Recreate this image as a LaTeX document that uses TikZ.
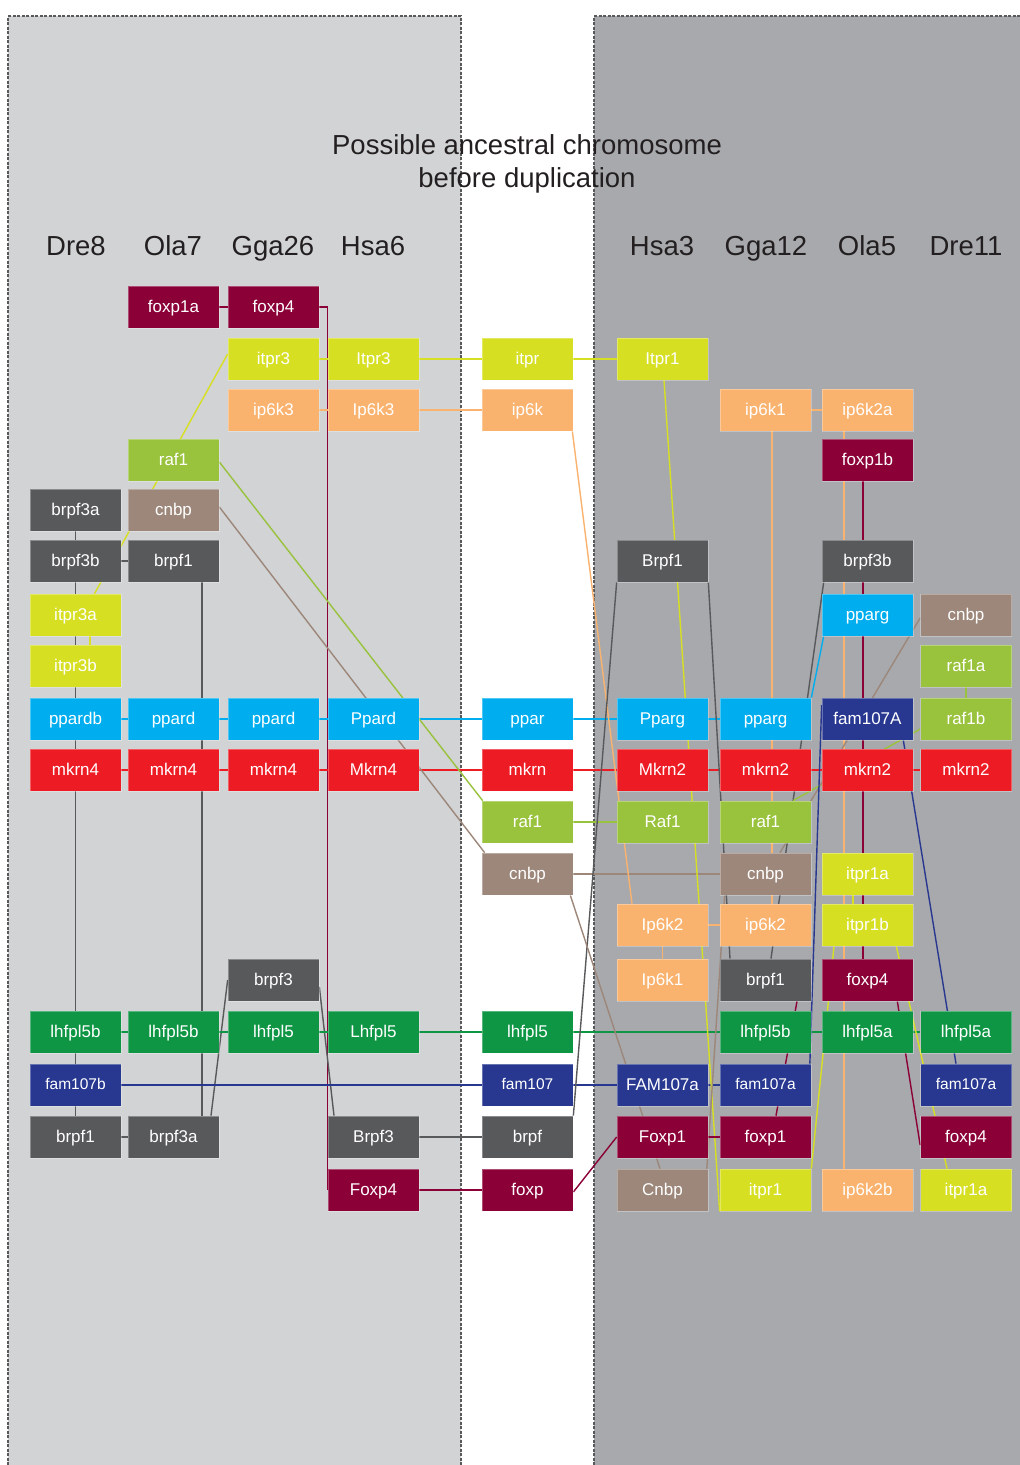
\documentclass[tikz,border=0pt]{standalone}
\usepackage{fontspec}
\setmainfont{Liberation Sans}
\usetikzlibrary{calc}
\pgfdeclarelayer{panels}
\pgfdeclarelayer{links}
\pgfsetlayers{panels,links,main}
\definecolor{cFox}{HTML}{8B0037}
\definecolor{cItp}{HTML}{D7DF23}
\definecolor{cIpk}{HTML}{FAB36F}
\definecolor{cRaf}{HTML}{99C23D}
\definecolor{cCnb}{HTML}{9D877A}
\definecolor{cBrp}{HTML}{58595B}
\definecolor{cPpa}{HTML}{00AEEF}
\definecolor{cMkr}{HTML}{ED1C24}
\definecolor{cLhf}{HTML}{0F9645}
\definecolor{cFam}{HTML}{283891}
\definecolor{panelL}{HTML}{D1D3D4}
\definecolor{panelR}{HTML}{A7A9AC}
\definecolor{txt}{HTML}{231F20}
\begin{document}
\begin{tikzpicture}[x=1pt,y=-1pt,
  gene/.style={rectangle, minimum width=91pt, minimum height=42pt, inner sep=0pt,
    text=white, text height=12.5pt, text depth=2pt,
    font=\fontsize{17}{20}\selectfont, draw=white, draw opacity=0.3, line width=0.7pt},
  small/.style={font=\fontsize{15.5}{18}\selectfont, text height=11.5pt},
  lk/.style={line width=1.4pt},
  pborder/.style={draw=cBrp, line width=1.5pt, dash pattern=on 3pt off 1.5pt},
  head/.style={font=\fontsize{27.5}{30}\selectfont, text=txt, anchor=base, inner sep=0pt}]
\useasboundingbox (0,0) rectangle (1020,1465);
\begin{pgfonlayer}{panels}
\fill[white] (0,0) rectangle (1020,1465);
\fill[panelL] (8,16) rectangle (461,1465);
\draw[pborder] (8,1465) -- (8,16) -- (461,16) -- (461,1465);
\fill[panelR] (594,16) rectangle (1020,1465);
\draw[pborder] (594,1465) -- (594,16) -- (1020,16);
\end{pgfonlayer}

% title and headers
\node[head] (t1) at (527,154) {Possible ancestral chromosome};
\node[head] (t2) at (527,187) {before duplication};
\node[head] (h1) at (76,255) {Dre8};
\node[head] (h2) at (173,255) {Ola7};
\node[head] (h3) at (273,255) {Gga26};
\node[head] (h4) at (373,255) {Hsa6};
\node[head] (h6) at (662,255) {Hsa3};
\node[head] (h7) at (766,255) {Gga12};
\node[head] (h8) at (867,255) {Ola5};
\node[head] (h9) at (966,255) {Dre11};

% column 1 (Dre8)
\node[gene,fill=cBrp] (brpf3a) at (75.5,510) {brpf3a};
\node[gene,fill=cBrp] (brpf3b) at (75.5,561) {brpf3b};
\node[gene,fill=cItp] (itpr3a) at (75.5,615) {itpr3a};
\node[gene,fill=cItp] (itpr3b) at (75.5,666) {itpr3b};
\node[gene,fill=cPpa] (ppardb) at (75.5,719) {ppardb};
\node[gene,fill=cMkr] (mkrnA) at (75.5,770) {mkrn4};
\node[gene,fill=cLhf] (lhfA) at (75.5,1032) {lhfpl5b};
\node[gene,fill=cFam,small] (fam107b) at (75.5,1085) {fam107b};
\node[gene,fill=cBrp] (brpf1A) at (75.5,1137) {brpf1};
% column 2 (Ola7)
\node[gene,fill=cFox] (foxp1a) at (173.5,307) {foxp1a};
\node[gene,fill=cRaf] (raf1B) at (173.5,460) {raf1};
\node[gene,fill=cCnb] (cnbpB) at (173.5,510) {cnbp};
\node[gene,fill=cBrp] (brpf1B) at (173.5,561) {brpf1};
\node[gene,fill=cPpa] (ppardB) at (173.5,719) {ppard};
\node[gene,fill=cMkr] (mkrnB) at (173.5,770) {mkrn4};
\node[gene,fill=cLhf] (lhfB) at (173.5,1032) {lhfpl5b};
\node[gene,fill=cBrp] (brpf3aB) at (173.5,1137) {brpf3a};
% column 3 (Gga26)
\node[gene,fill=cFox] (foxp4C) at (273.5,307) {foxp4};
\node[gene,fill=cItp] (itpr3C) at (273.5,359) {itpr3};
\node[gene,fill=cIpk] (ip6k3C) at (273.5,410) {ip6k3};
\node[gene,fill=cPpa] (ppardC) at (273.5,719) {ppard};
\node[gene,fill=cMkr] (mkrnC) at (273.5,770) {mkrn4};
\node[gene,fill=cBrp] (brpf3C) at (273.5,980) {brpf3};
\node[gene,fill=cLhf] (lhfC) at (273.5,1032) {lhfpl5};
% column 4 (Hsa6)
\node[gene,fill=cItp] (itpr3D) at (373.5,359) {Itpr3};
\node[gene,fill=cIpk] (ip6k3D) at (373.5,410) {Ip6k3};
\node[gene,fill=cPpa] (ppardD) at (373.5,719) {Ppard};
\node[gene,fill=cMkr] (mkrnD) at (373.5,770) {Mkrn4};
\node[gene,fill=cLhf] (lhfD) at (373.5,1032) {Lhfpl5};
\node[gene,fill=cBrp] (brpf3D) at (373.5,1137) {Brpf3};
\node[gene,fill=cFox] (foxp4D) at (373.5,1190) {Foxp4};
% column 5 (ancestral)
\node[gene,fill=cItp] (itprE) at (527.5,359) {itpr};
\node[gene,fill=cIpk] (ip6kE) at (527.5,410) {ip6k};
\node[gene,fill=cPpa] (pparE) at (527.5,719) {ppar};
\node[gene,fill=cMkr] (mkrnE) at (527.5,770) {mkrn};
\node[gene,fill=cRaf] (raf1E) at (527.5,822) {raf1};
\node[gene,fill=cCnb] (cnbpE) at (527.5,874) {cnbp};
\node[gene,fill=cLhf] (lhfE) at (527.5,1032) {lhfpl5};
\node[gene,fill=cFam,small] (famE) at (527.5,1085) {fam107};
\node[gene,fill=cBrp] (brpfE) at (527.5,1137) {brpf};
\node[gene,fill=cFox] (foxpE) at (527.5,1190) {foxp};
% column 6 (Hsa3)
\node[gene,fill=cItp] (itpr1F) at (662.5,359) {Itpr1};
\node[gene,fill=cBrp] (brpf1F) at (662.5,561) {Brpf1};
\node[gene,fill=cPpa] (ppargF) at (662.5,719) {Pparg};
\node[gene,fill=cMkr] (mkrnF) at (662.5,770) {Mkrn2};
\node[gene,fill=cRaf] (raf1F) at (662.5,822) {Raf1};
\node[gene,fill=cIpk] (ip6k2F) at (662.5,925) {Ip6k2};
\node[gene,fill=cIpk] (ip6k1F) at (662.5,980) {Ip6k1};
\node[gene,fill=cFam] (famF) at (662.5,1085) {FAM107a};
\node[gene,fill=cFox] (foxp1F) at (662.5,1137) {Foxp1};
\node[gene,fill=cCnb] (cnbpF) at (662.5,1190) {Cnbp};
% column 7 (Gga12)
\node[gene,fill=cIpk] (ip6k1G) at (765.5,410) {ip6k1};
\node[gene,fill=cPpa] (ppargG) at (765.5,719) {pparg};
\node[gene,fill=cMkr] (mkrnG) at (765.5,770) {mkrn2};
\node[gene,fill=cRaf] (raf1G) at (765.5,822) {raf1};
\node[gene,fill=cCnb] (cnbpG) at (765.5,874) {cnbp};
\node[gene,fill=cIpk] (ip6k2G) at (765.5,925) {ip6k2};
\node[gene,fill=cBrp] (brpf1G) at (765.5,980) {brpf1};
\node[gene,fill=cLhf] (lhfG) at (765.5,1032) {lhfpl5b};
\node[gene,fill=cFam,small] (famG) at (765.5,1085) {fam107a};
\node[gene,fill=cFox] (foxp1G) at (765.5,1137) {foxp1};
\node[gene,fill=cItp] (itpr1G) at (765.5,1190) {itpr1};
% column 8 (Ola5)
\node[gene,fill=cIpk] (ip6k2aH) at (867.5,410) {ip6k2a};
\node[gene,fill=cFox] (foxp1bH) at (867.5,460) {foxp1b};
\node[gene,fill=cBrp] (brpf3bH) at (867.5,561) {brpf3b};
\node[gene,fill=cPpa] (ppargH) at (867.5,615) {pparg};
\node[gene,fill=cFam] (famH) at (867.5,719) {fam107A};
\node[gene,fill=cMkr] (mkrnH) at (867.5,770) {mkrn2};
\node[gene,fill=cItp] (itpr1aH) at (867.5,874) {itpr1a};
\node[gene,fill=cItp] (itpr1bH) at (867.5,925) {itpr1b};
\node[gene,fill=cFox] (foxp4H) at (867.5,980) {foxp4};
\node[gene,fill=cLhf] (lhfH) at (867.5,1032) {lhfpl5a};
\node[gene,fill=cIpk] (ip6k2bH) at (867.5,1190) {ip6k2b};
% column 9 (Dre11)
\node[gene,fill=cCnb] (cnbpI) at (966,615) {cnbp};
\node[gene,fill=cRaf] (raf1aI) at (966,666) {raf1a};
\node[gene,fill=cRaf] (raf1bI) at (966,719) {raf1b};
\node[gene,fill=cMkr] (mkrnI) at (966,770) {mkrn2};
\node[gene,fill=cLhf] (lhfI) at (966,1032) {lhfpl5a};
\node[gene,fill=cFam,small] (famI) at (966,1085) {fam107a};
\node[gene,fill=cFox] (foxp4I) at (966,1137) {foxp4};
\node[gene,fill=cItp] (itpr1aI) at (966,1190) {itpr1a};

\begin{pgfonlayer}{links}
\draw[lk,cFox] (foxp1a.east) -- (foxp4C.west);
\draw[lk,cFox] (foxp4C.east) -| (foxp4D.west);
\draw[lk,cItp] (itpr3C.east) -- (itpr1F.west);
\draw[lk,cIpk] (ip6k3C.east) -- (ip6kE.west);
\draw[lk,cItp] ($(itpr3C.west)+(0,-5)$) -- ($(itpr3a.north)+(19,0)$);
\draw[lk,cItp] ($(itpr3a.south)+(14.5,0)$) -- ($(itpr3b.north)+(14.5,0)$);
\draw[lk,cBrp] (brpf3a.south) -- (brpf1A.north);
\draw[lk,cBrp] (brpf3b.east) -- (brpf1B.west);
\draw[lk,cBrp] ($(brpf1B.south)+(28.5,0)$) -- ($(brpf3aB.north)+(28.5,0)$);
\draw[lk,cBrp] (brpf1A.east) -- (brpf3aB.west);
\draw[lk,cBrp] ($(brpf3aB.north)+(37.5,0)$) -- (brpf3C.west);
\draw[lk,cBrp] ($(brpf3C.east)+(0,7)$) -- ($(brpf3D.north)+(-39.5,0)$);
\draw[lk,cBrp] (brpf3D.east) -- (brpfE.west);
\draw[lk,cPpa] (ppardb.east) -- (ppargG.west);
\draw[lk,cMkr] (mkrnA.east) -- (mkrnI.west);
\draw[lk,cLhf] (lhfA.east) -- (lhfI.west);
\draw[lk,cFam] (fam107b.east) -- (famG.west);
\draw[lk,cFox] (foxp4D.east) -- (foxpE.west);
\draw[lk,cRaf] ($(raf1B.east)+(0,2)$) -- ($(raf1E.north west)+(1,0)$);
\draw[lk,cCnb] ($(cnbpB.east)+(0,-3)$) -- ($(cnbpE.north west)+(3,0)$);
\draw[lk,cRaf] (raf1E.east) -- (raf1F.west);
\draw[lk,cCnb] (cnbpE.east) -- (cnbpG.west);
\draw[lk,cIpk] ($(ip6kE.south east)+(-1,0)$) -- ($(ip6k2F.north)+(-30.5,0)$);
\draw[lk,cBrp] (brpfE.north east) -- (brpf1F.south west);
\draw[lk,cCnb] ($(cnbpE.south east)+(-3,0)$) -- ($(cnbpF.north)+(-2.5,0)$);
\draw[lk,cFox] ($(foxpE.east)+(0,2)$) -- (foxp1F.west);
\draw[lk,cItp] ($(itpr1F.south)+(1.5,0)$) -- (itpr1G.south west);
\draw[lk,cIpk] (ip6k2F.east) -- (ip6k2G.west);
\draw[lk,cIpk] (ip6k2F.south) -- (ip6k1F.north);
\draw[lk,cIpk] (ip6k1G.east) -- (ip6k2aH.west);
\draw[lk,cIpk] ($(ip6k1G.south)+(6.5,0)$) -- ($(ip6k2G.north)+(6.5,0)$);
\draw[lk,cIpk] ($(ip6k2aH.south)+(-23.5,0)$) -- ($(ip6k2bH.north)+(-23.5,0)$);
\draw[lk,cFox] ($(foxp1bH.south)+(-4.5,0)$) -- ($(foxp4H.north)+(-4.5,0)$);
\draw[lk,cBrp] (brpf1F.south east) -- ($(brpf1G.north)+(-35.5,0)$);
\draw[lk,cBrp] ($(brpf3bH.south west)+(2,0)$) -- ($(brpf1G.north)+(5.5,0)$);
\draw[lk,cPpa] (ppargG.north east) -- ($(ppargH.south west)+(2,0)$);
\draw[lk,cRaf] ($(raf1G.north)+(27.5,0)$) -- ($(raf1bI.west)+(0,10)$);
\draw[lk,cCnb] ($(cnbpG.north)+(14.5,0)$) -- ($(cnbpI.west)+(0,3)$);
\draw[lk,cCnb] ($(cnbpF.north east)+(-1.5,0)$) -- ($(cnbpG.south west)+(5,0)$);
\draw[lk,cFam] ($(famG.north east)+(-1.5,0)$) -- ($(famH.west)+(0,-14)$);
\draw[lk,cFam] ($(famH.south east)+(-10,0)$) -- ($(famI.north)+(-10,0)$);
\draw[lk,cFox] ($(foxp1G.north)+(10.5,0)$) -- ($(brpf1G.south)+(31.5,0)$);
\draw[lk,cFox] (foxp1F.east) -- (foxp1G.west);
\draw[lk,cItp] (itpr1G.north east) -- ($(itpr1bH.south)+(-33.5,0)$);
\draw[lk,cItp] ($(itpr1aH.south)+(-14.5,0)$) -- ($(itpr1bH.north)+(-14.5,0)$);
\draw[lk,cItp] ($(itpr1bH.south east)+(-17,0)$) -- ($(itpr1aI.north)+(-19,0)$);
\draw[lk,cFox] ($(foxp4H.south east)+(-16,0)$) -- ($(foxp4I.west)+(0,8)$);
\draw[lk,cRaf] (raf1aI.south) -- (raf1bI.north);
\end{pgfonlayer}
\end{tikzpicture}
\end{document}
